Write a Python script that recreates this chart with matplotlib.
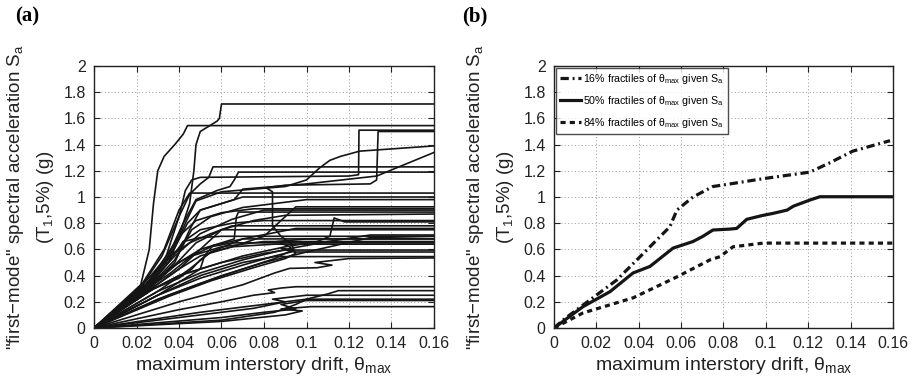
import matplotlib
matplotlib.use("Agg")
import matplotlib.pyplot as plt
from matplotlib.ticker import FuncFormatter

plt.rcParams['font.family'] = ['Liberation Sans', 'DejaVu Sans']
plt.rcParams['mathtext.fontset'] = 'custom'
plt.rcParams['mathtext.rm'] = 'Liberation Sans'
plt.rcParams['mathtext.it'] = 'Liberation Sans'

# ---------------- Panel (a): individual IDA curves (theta_max, Sa) ----------------
curve_01 = ([0, 0.022, 0.026, 0.028, 0.030, 0.033, 0.038, 0.042, 0.044, 0.16],
            [0, 0.33, 0.60, 0.95, 1.20, 1.31, 1.40, 1.48, 1.545, 1.545])
curve_02 = ([0, 0.023, 0.032, 0.040, 0.045, 0.047, 0.048, 0.050, 0.055, 0.058, 0.059, 0.060, 0.16],
            [0, 0.33, 0.50, 0.70, 0.95, 1.20, 1.40, 1.50, 1.55, 1.58, 1.60, 1.71, 1.71])
curve_03 = ([0, 0.024, 0.034, 0.040, 0.043, 0.046, 0.050, 0.120, 0.1245, 0.1247, 0.16],
            [0, 0.32, 0.55, 0.85, 1.05, 1.13, 1.15, 1.16, 1.17, 1.51, 1.51])
curve_04 = ([0, 0.03, 0.05, 0.07, 0.085, 0.094, 0.093, 0.088, 0.084, 0.084, 0.081, 0.090, 0.130, 0.133, 0.1337, 0.16],
            [0, 0.22, 0.34, 0.45, 0.53, 0.60, 0.64, 0.70, 0.78, 1.04, 1.07, 1.09, 1.10, 1.13, 1.50, 1.50])
curve_05 = ([0, 0.022, 0.032, 0.040, 0.045, 0.050, 0.054, 0.056, 0.16],
            [0, 0.31, 0.55, 0.85, 1.02, 1.10, 1.15, 1.23, 1.23])
curve_06 = ([0, 0.023, 0.034, 0.042, 0.048, 0.058, 0.064, 0.066, 0.068, 0.16],
            [0, 0.30, 0.52, 0.80, 0.98, 1.05, 1.08, 1.13, 1.19, 1.19])
curve_07 = ([0, 0.024, 0.035, 0.043, 0.048, 0.060, 0.090, 0.100, 0.106, 0.111, 0.116, 0.125, 0.160],
            [0, 0.30, 0.50, 0.80, 0.97, 1.04, 1.08, 1.13, 1.22, 1.28, 1.31, 1.35, 1.39])
curve_08 = ([0, 0.026, 0.038, 0.045, 0.050, 0.066, 0.070, 0.100, 0.133, 0.160],
            [0, 0.30, 0.50, 0.75, 0.90, 0.98, 1.06, 1.10, 1.16, 1.34])
curve_09 = ([0, 0.022, 0.033, 0.040, 0.045, 0.16],
            [0, 0.32, 0.60, 0.90, 1.03, 1.03])
curve_10 = ([0, 0.024, 0.036, 0.044, 0.050, 0.060, 0.070, 0.16],
            [0, 0.30, 0.55, 0.80, 0.90, 0.95, 1.00, 1.00])
curve_11 = ([0, 0.025, 0.038, 0.046, 0.055, 0.070, 0.090, 0.100, 0.16],
            [0, 0.30, 0.52, 0.75, 0.85, 0.92, 0.96, 0.98, 0.98])
curve_12 = ([0, 0.024, 0.034, 0.040, 0.048, 0.060, 0.075, 0.16],
            [0, 0.33, 0.50, 0.70, 0.82, 0.88, 0.91, 0.91])
curve_13 = ([0, 0.025, 0.040, 0.050, 0.060, 0.066, 0.067, 0.068, 0.16],
            [0, 0.30, 0.50, 0.60, 0.65, 0.68, 0.85, 0.885, 0.885])
curve_14 = ([0, 0.026, 0.038, 0.048, 0.060, 0.075, 0.090, 0.16],
            [0, 0.30, 0.48, 0.65, 0.75, 0.82, 0.86, 0.87])
curve_15 = ([0, 0.030, 0.050, 0.070, 0.090, 0.105, 0.111, 0.113, 0.118, 0.16],
            [0, 0.25, 0.45, 0.55, 0.62, 0.66, 0.70, 0.84, 0.81, 0.81])
curve_16 = ([0, 0.024, 0.036, 0.045, 0.055, 0.065, 0.16],
            [0, 0.32, 0.55, 0.65, 0.72, 0.78, 0.78])
curve_17 = ([0, 0.027, 0.040, 0.050, 0.060, 0.16],
            [0, 0.30, 0.45, 0.60, 0.75, 0.75])
curve_18 = ([0, 0.030, 0.050, 0.070, 0.090, 0.110, 0.130, 0.16],
            [0, 0.28, 0.42, 0.52, 0.60, 0.66, 0.71, 0.71])
curve_19 = ([0, 0.025, 0.035, 0.040, 0.042, 0.050, 0.060, 0.16],
            [0, 0.33, 0.55, 0.60, 0.66, 0.69, 0.70, 0.70])
curve_20 = ([0, 0.028, 0.040, 0.050, 0.052, 0.056, 0.070, 0.16],
            [0, 0.30, 0.40, 0.45, 0.55, 0.63, 0.68, 0.68])
curve_21 = ([0, 0.025, 0.036, 0.046, 0.055, 0.065, 0.16],
            [0, 0.30, 0.42, 0.55, 0.62, 0.65, 0.65])
curve_22 = ([0, 0.030, 0.050, 0.070, 0.085, 0.094, 0.088, 0.095, 0.16],
            [0, 0.25, 0.38, 0.48, 0.55, 0.585, 0.61, 0.58, 0.58])
curve_23 = ([0, 0.035, 0.055, 0.075, 0.090, 0.095, 0.092, 0.086, 0.100, 0.16],
            [0, 0.24, 0.36, 0.46, 0.53, 0.57, 0.62, 0.66, 0.68, 0.68])
curve_24 = ([0, 0.040, 0.070, 0.085, 0.092, 0.105, 0.112, 0.104, 0.120, 0.16],
            [0, 0.20, 0.33, 0.42, 0.455, 0.46, 0.48, 0.50, 0.53, 0.535])
curve_25 = ([0, 0.030, 0.050, 0.070, 0.085, 0.16],
            [0, 0.25, 0.40, 0.50, 0.545, 0.545])
curve_26 = ([0, 0.026, 0.040, 0.060, 0.080, 0.090, 0.16],
            [0, 0.28, 0.40, 0.50, 0.57, 0.595, 0.595])
curve_27 = ([0, 0.040, 0.060, 0.075, 0.085, 0.082, 0.088, 0.095, 0.16],
            [0, 0.14, 0.20, 0.25, 0.27, 0.29, 0.305, 0.315, 0.315])
curve_28 = ([0, 0.050, 0.070, 0.090, 0.100, 0.110, 0.115, 0.16],
            [0, 0.12, 0.16, 0.20, 0.22, 0.26, 0.285, 0.285])
curve_29 = ([0, 0.050, 0.075, 0.090, 0.084, 0.100, 0.16],
            [0, 0.10, 0.15, 0.20, 0.22, 0.25, 0.25])
curve_30 = ([0, 0.060, 0.080, 0.095, 0.088, 0.100, 0.16],
            [0, 0.08, 0.12, 0.145, 0.18, 0.21, 0.21])
curve_31 = ([0, 0.060, 0.090, 0.098, 0.088, 0.102, 0.16],
            [0, 0.05, 0.10, 0.13, 0.145, 0.163, 0.163])
curve_32 = ([0, 0.025, 0.040, 0.050, 0.065, 0.080, 0.095, 0.16],
            [0, 0.28, 0.45, 0.55, 0.62, 0.70, 0.925, 0.925])
curve_33 = ([0, 0.025, 0.038, 0.050, 0.065, 0.080, 0.16],
            [0, 0.32, 0.55, 0.72, 0.83, 0.90, 0.90])
curve_34 = ([0, 0.030, 0.045, 0.055, 0.070, 0.095, 0.16],
            [0, 0.28, 0.45, 0.58, 0.68, 0.76, 0.76])
curve_35 = ([0, 0.035, 0.060, 0.080, 0.100, 0.130, 0.16],
            [0, 0.25, 0.40, 0.50, 0.58, 0.69, 0.70])
curve_36 = ([0, 0.026, 0.035, 0.040, 0.046, 0.060, 0.080, 0.16],
            [0, 0.32, 0.45, 0.50, 0.55, 0.62, 0.66, 0.66])
curve_37 = ([0, 0.025, 0.035, 0.042, 0.050, 0.065, 0.080, 0.16],
            [0, 0.30, 0.50, 0.66, 0.75, 0.80, 0.82, 0.82])
curve_38 = ([0, 0.028, 0.040, 0.046, 0.050, 0.055, 0.065, 0.085, 0.16],
            [0, 0.30, 0.38, 0.45, 0.52, 0.58, 0.62, 0.64, 0.64])
curve_39 = ([0, 0.060, 0.085, 0.095, 0.100, 0.16],
            [0, 0.06, 0.12, 0.18, 0.22, 0.22])

ida_curves = [curve_01, curve_02, curve_03, curve_04, curve_05, curve_06, curve_07,
              curve_08, curve_09, curve_10, curve_11, curve_12, curve_13, curve_14,
              curve_15, curve_16, curve_17, curve_18, curve_19, curve_20, curve_21,
              curve_22, curve_23, curve_24, curve_25, curve_26, curve_27, curve_28,
              curve_29, curve_30, curve_31, curve_32, curve_33, curve_34, curve_35,
              curve_36, curve_37, curve_38, curve_39]

# ---------------- Panel (b): fractile curves ----------------
f16_theta = [0, 0.005, 0.0137, 0.0296, 0.0406, 0.0547, 0.058, 0.0656, 0.075, 0.0831,
             0.0988, 0.1208, 0.130, 0.141, 0.1586]
f16_sa = [0, 0.07, 0.175, 0.366, 0.544, 0.773, 0.90, 1.00, 1.08, 1.10,
          1.14, 1.19, 1.26, 1.35, 1.43]
f50_theta = [0, 0.0137, 0.0264, 0.0373, 0.0453, 0.0562, 0.0656, 0.0703, 0.075, 0.083,
             0.0862, 0.091, 0.0987, 0.1034, 0.110, 0.113, 0.1208, 0.1255, 0.16]
f50_sa = [0, 0.163, 0.277, 0.42, 0.47, 0.61, 0.66, 0.70, 0.748, 0.755,
          0.76, 0.83, 0.86, 0.875, 0.90, 0.93, 0.977, 1.002, 1.002]
f84_theta = [0, 0.0137, 0.0373, 0.058, 0.0736, 0.0783, 0.0845, 0.0987, 0.16]
f84_sa = [0, 0.115, 0.23, 0.39, 0.52, 0.544, 0.62, 0.648, 0.648]

x_ticks = [0, 0.02, 0.04, 0.06, 0.08, 0.10, 0.12, 0.14, 0.16]
y_ticks = [0, 0.2, 0.4, 0.6, 0.8, 1.0, 1.2, 1.4, 1.6, 1.8, 2.0]

fig = plt.figure(figsize=(9.2, 3.89), dpi=100)
ax_a = fig.add_axes([94/920, 61/389, 340/920, 262/389])
ax_b = fig.add_axes([554/920, 61/389, 339/920, 262/389])

fmt = FuncFormatter(lambda v, p: '%g' % round(v, 4))

for ax in (ax_a, ax_b):
    ax.set_xlim(0, 0.16)
    ax.set_ylim(0, 2)
    ax.set_xticks(x_ticks)
    ax.set_yticks(y_ticks)
    ax.xaxis.set_major_formatter(fmt)
    ax.yaxis.set_major_formatter(fmt)
    ax.grid(True, linestyle=(0, (1, 2.5)), color='#9a9a9a', linewidth=0.7)
    ax.tick_params(direction='in', top=True, right=True, length=4, width=0.8,
                   labelsize=11.5, colors='#222222')
    ax.tick_params(axis='y', pad=6)
    ax.tick_params(axis='x', pad=6)
    for s in ax.spines.values():
        s.set_linewidth(1.0)
        s.set_color('#222222')
    ax.set_xlabel(r'maximum interstory drift, $\theta_{\rm max}$', fontsize=14, labelpad=3,
                  color='#222222')
    ax.set_ylabel('"first\u2212mode" spectral acceleration S$_{\\rm a}$\n(T$_{\\rm 1}$,5%) (g)',
                  fontsize=13.5, labelpad=5, color='#222222', linespacing=1.6)

for th, sa in ida_curves:
    ax_a.plot(th, sa, color='#151515', linewidth=1.2, solid_joinstyle='round')

ax_b.plot(f16_theta, f16_sa, color='#151515', linewidth=2.3, dashes=(2.6, 1.2, 0.6, 1.2),
          label=r'16% fractiles of $\theta_{\rm max}$ given S$_{\rm a}$')
ax_b.plot(f50_theta, f50_sa, color='#151515', linewidth=2.3,
          label=r'50% fractiles of $\theta_{\rm max}$ given S$_{\rm a}$')
ax_b.plot(f84_theta, f84_sa, color='#151515', linewidth=2.3, dashes=(1.6, 1.3),
          label=r'84% fractiles of $\theta_{\rm max}$ given S$_{\rm a}$')
leg = ax_b.legend(loc='upper left', fontsize=7.7, frameon=True, fancybox=False,
                  edgecolor='#222222', handlelength=2.0, handletextpad=0.15,
                  borderpad=0.4, labelspacing=0.75, borderaxespad=0.15)
leg.get_frame().set_linewidth(1.0)
for h in leg.get_lines():
    h.set_linewidth(2.3)

fig.text(15/920, 1 - 6/389, '(a)', fontsize=15, fontweight='bold', family='Liberation Serif',
         va='top', ha='left')
fig.text(462/920, 1 - 6/389, '(b)', fontsize=15, fontweight='bold', family='Liberation Serif',
         va='top', ha='left')

fig.savefig('out.png', dpi=100)
